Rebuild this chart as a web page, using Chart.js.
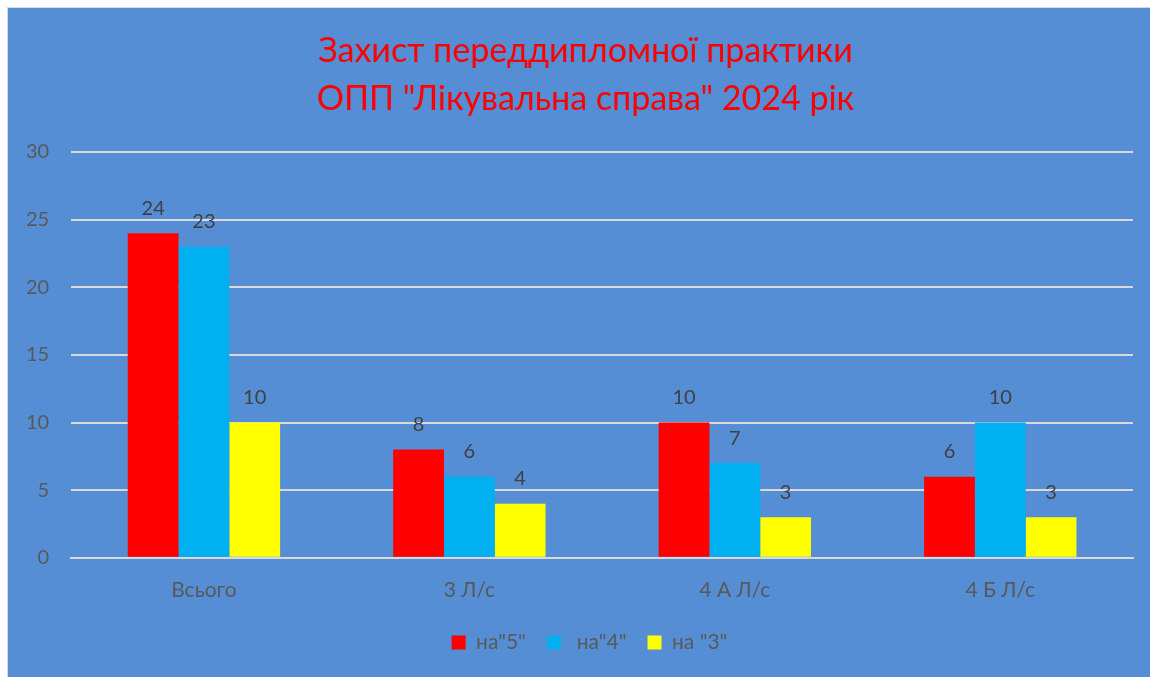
<!DOCTYPE html>
<html>
<head>
<meta charset="utf-8">
<script src="https://cdn.jsdelivr.net/npm/chart.js@4.4.1/dist/chart.umd.min.js"></script>
<style>
  html, body { margin: 0; padding: 0; background: #ffffff; overflow: hidden; width: 1150px; height: 677px; }
  #frame {
    position: absolute; left: 7px; top: 7px; width: 1154px; height: 672px;
    background: #558ED5; border: 1.5px solid #D9D9D9; overflow: hidden;
  }
  #chart { display: block; }
</style>
</head>
<body>
<div id="frame"><canvas id="chart" width="1154" height="672"></canvas></div>
<script>
const categories = ['Всього', '3 Л/с', '4 А Л/с', '4 Б Л/с'];
const grade5 = [24, 8, 10, 6];
const grade4 = [23, 6, 7, 10];
const grade3 = [10, 4, 3, 3];
const seriesLabels = ['на"5"', ' на"4"', 'на "3"'];
const titleLines = ['Захист переддипломної практики', 'ОПП "Лікувальна справа" 2024 рік'];

const FONT = 'Lato, "Open Sans", sans-serif';

// values written above each bar
const valueLabels = {
    id: 'valueLabels',
    afterDatasetsDraw(chart) {
        const ctx = chart.ctx;
        ctx.save();
        ctx.font = '20px ' + FONT;
        ctx.fillStyle = '#404040';
        ctx.textAlign = 'center';
        ctx.textBaseline = 'middle';
        chart.data.datasets.forEach((ds, i) => {
            chart.getDatasetMeta(i).data.forEach((bar, j) => {
                ctx.fillText(ds.data[j], bar.x, bar.y - 25);
            });
        });
        ctx.restore();
    }
};

// title and legend sit a bit right of the plot's centre in the original
const shiftBlocks = {
    id: 'shiftBlocks',
    afterLayout(chart) {
        chart.titleBlock.left += 17;
        chart.titleBlock.right += 17;
        chart.legend.left += 21;
        chart.legend.right += 21;
    }
};

new Chart(document.getElementById('chart'), {
    type: 'bar',
    data: {
        labels: categories,
        datasets: [
            { label: seriesLabels[0], data: grade5, backgroundColor: '#FF0000' },
            { label: seriesLabels[1], data: grade4, backgroundColor: '#00B0F0' },
            { label: seriesLabels[2], data: grade3, backgroundColor: '#FFFF00' }
        ]
    },
    options: {
        responsive: false,
        animation: false,
        categoryPercentage: 0.574,
        barPercentage: 1,
        layout: { padding: { left: -4, right: 29, top: 0, bottom: 17 } },
        scales: {
            y: {
                min: 0,
                max: 30,
                ticks: { stepSize: 5, color: '#595959', font: { size: 20, family: FONT }, padding: 22 },
                grid: { color: '#D9D9D9', lineWidth: 2, drawTicks: false },
                border: { display: false }
            },
            x: {
                ticks: { color: '#595959', font: { size: 21, family: FONT }, padding: 20 },
                grid: { display: false, drawTicks: false },
                border: { color: '#D9D9D9', width: 2 },
                afterFit: (scale) => { scale.height -= 12; }
            }
        },
        plugins: {
            title: {
                display: true,
                text: titleLines,
                color: '#FF0000',
                font: { size: 34, family: FONT, weight: 'normal', lineHeight: 1.412 },
                padding: { top: 19, bottom: 29 }
            },
            legend: {
                position: 'bottom',
                labels: {
                    color: '#595959',
                    font: { size: 21, family: FONT },
                    boxWidth: 14,
                    boxHeight: 14,
                    padding: 21
                }
            },
            tooltip: { enabled: false }
        }
    },
    plugins: [valueLabels, shiftBlocks]
});
</script>
</body>
</html>
